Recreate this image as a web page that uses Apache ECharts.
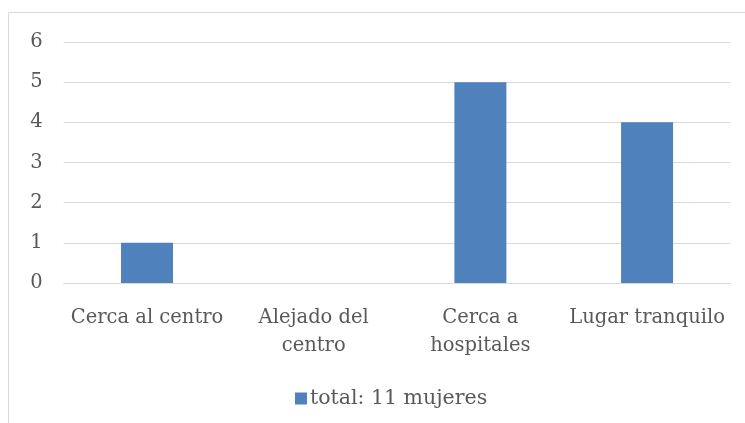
<!DOCTYPE html>
<html><head><meta charset="utf-8">
<script src="https://cdn.jsdelivr.net/npm/echarts@6/dist/echarts.min.js"></script>
<style>html,body{margin:0;padding:0;background:#fff}#c{width:745px;height:423px}</style>
</head><body><div id="c"></div>
<script>
const categories = ['Cerca al centro', 'Alejado del centro', 'Cerca a hospitales', 'Lugar tranquilo'];
const seriesName = 'total: 11 mujeres';
const values = [1, 0, 5, 4];
const yTicks = [0, 1, 2, 3, 4, 5, 6];

const FONT = 'DejaVu Serif';
const TXT = '#595959';
const chart = echarts.init(document.getElementById('c'), null, {renderer: 'canvas'});
function wrap(s) {
  if (s.length <= 16) return s;
  const i = s.lastIndexOf(' ');
  return s.slice(0, i) + '\n' + s.slice(i + 1);
}
chart.setOption({
  animation: false,
  graphic: [{
    type: 'rect', silent: true,
    shape: {x: 8.5, y: 12.5, width: 760, height: 440},
    style: {fill: 'none', stroke: '#d9d9d9', lineWidth: 1}
  }],
  grid: {left: 63.7, right: 14.6, top: 42, bottom: 140, containLabel: false},
  legend: {
    left: 290, top: 383,
    itemWidth: 12, itemHeight: 12, itemGap: 10,
    icon: 'rect',
    textStyle: {fontFamily: FONT, fontSize: 20.5, color: TXT, padding: [0, 0, 0, -2]},
    data: [seriesName]
  },
  xAxis: {
    type: 'category', data: categories,
    axisLine: {show: true, lineStyle: {color: '#d9d9d9', width: 1}},
    axisTick: {show: false},
    axisLabel: {
      interval: 0, margin: 21, color: TXT, fontFamily: FONT, fontSize: 19.5,
      lineHeight: 28, formatter: wrap
    }
  },
  yAxis: {
    type: 'value', min: yTicks[0], max: yTicks[yTicks.length - 1], interval: 1,
    axisLine: {show: false}, axisTick: {show: false},
    splitLine: {lineStyle: {color: '#d9d9d9', width: 1}},
    axisLabel: {margin: 21, color: TXT, fontFamily: FONT, fontSize: 19.5, padding: [4, 0, 0, 0]}
  },
  series: [{
    name: seriesName, type: 'bar', data: values, barWidth: 52,
    itemStyle: {color: '#4f81bd'}
  }]
});
</script></body></html>
